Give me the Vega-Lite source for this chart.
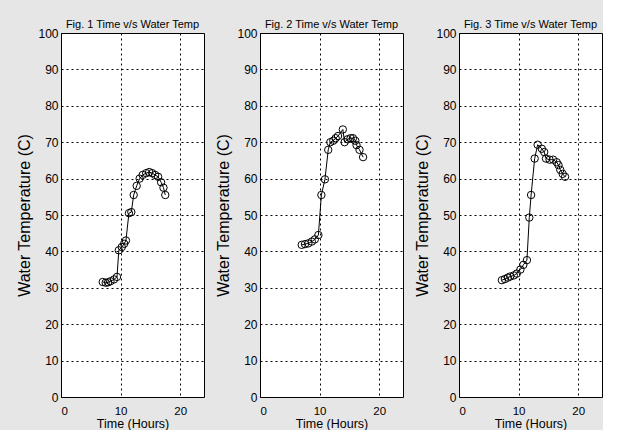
{
  "$schema": "https://vega.github.io/schema/vega-lite/v6.json",
  "background": "#e6e6e6",
  "padding": {"left": 16, "top": 19, "right": 0, "bottom": 0},
  "data": {"values": [
    {"fig": "Fig. 1 Time v/s Water Temp", "t": 7.0, "temp": 31.6},
    {"fig": "Fig. 1 Time v/s Water Temp", "t": 7.5, "temp": 31.4},
    {"fig": "Fig. 1 Time v/s Water Temp", "t": 7.9, "temp": 31.5},
    {"fig": "Fig. 1 Time v/s Water Temp", "t": 8.3, "temp": 31.8},
    {"fig": "Fig. 1 Time v/s Water Temp", "t": 8.9, "temp": 32.3},
    {"fig": "Fig. 1 Time v/s Water Temp", "t": 9.4, "temp": 33.0},
    {"fig": "Fig. 1 Time v/s Water Temp", "t": 9.7, "temp": 40.3},
    {"fig": "Fig. 1 Time v/s Water Temp", "t": 10.2, "temp": 41.2},
    {"fig": "Fig. 1 Time v/s Water Temp", "t": 10.6, "temp": 42.1},
    {"fig": "Fig. 1 Time v/s Water Temp", "t": 10.9, "temp": 43.0},
    {"fig": "Fig. 1 Time v/s Water Temp", "t": 11.4, "temp": 50.5},
    {"fig": "Fig. 1 Time v/s Water Temp", "t": 11.8, "temp": 50.8},
    {"fig": "Fig. 1 Time v/s Water Temp", "t": 12.2, "temp": 55.5},
    {"fig": "Fig. 1 Time v/s Water Temp", "t": 12.7, "temp": 58.0},
    {"fig": "Fig. 1 Time v/s Water Temp", "t": 13.2, "temp": 60.0},
    {"fig": "Fig. 1 Time v/s Water Temp", "t": 13.7, "temp": 61.0},
    {"fig": "Fig. 1 Time v/s Water Temp", "t": 14.3, "temp": 61.5},
    {"fig": "Fig. 1 Time v/s Water Temp", "t": 14.8, "temp": 61.8},
    {"fig": "Fig. 1 Time v/s Water Temp", "t": 15.3, "temp": 61.5},
    {"fig": "Fig. 1 Time v/s Water Temp", "t": 15.8, "temp": 61.0},
    {"fig": "Fig. 1 Time v/s Water Temp", "t": 16.3, "temp": 60.5},
    {"fig": "Fig. 1 Time v/s Water Temp", "t": 16.8, "temp": 59.0},
    {"fig": "Fig. 1 Time v/s Water Temp", "t": 17.2, "temp": 57.5},
    {"fig": "Fig. 1 Time v/s Water Temp", "t": 17.5, "temp": 55.5},
    {"fig": "Fig. 2 Time v/s Water Temp", "t": 7.0, "temp": 41.8},
    {"fig": "Fig. 2 Time v/s Water Temp", "t": 7.55, "temp": 42.0},
    {"fig": "Fig. 2 Time v/s Water Temp", "t": 8.1, "temp": 42.2},
    {"fig": "Fig. 2 Time v/s Water Temp", "t": 8.7, "temp": 42.7},
    {"fig": "Fig. 2 Time v/s Water Temp", "t": 9.2, "temp": 43.3},
    {"fig": "Fig. 2 Time v/s Water Temp", "t": 9.8, "temp": 44.5},
    {"fig": "Fig. 2 Time v/s Water Temp", "t": 10.3, "temp": 55.5},
    {"fig": "Fig. 2 Time v/s Water Temp", "t": 10.9, "temp": 59.8},
    {"fig": "Fig. 2 Time v/s Water Temp", "t": 11.45, "temp": 67.9},
    {"fig": "Fig. 2 Time v/s Water Temp", "t": 11.8, "temp": 70.0},
    {"fig": "Fig. 2 Time v/s Water Temp", "t": 12.3, "temp": 70.4},
    {"fig": "Fig. 2 Time v/s Water Temp", "t": 12.7, "temp": 71.1},
    {"fig": "Fig. 2 Time v/s Water Temp", "t": 13.1, "temp": 71.7},
    {"fig": "Fig. 2 Time v/s Water Temp", "t": 13.9, "temp": 73.5},
    {"fig": "Fig. 2 Time v/s Water Temp", "t": 14.2, "temp": 70.0},
    {"fig": "Fig. 2 Time v/s Water Temp", "t": 14.7, "temp": 70.8},
    {"fig": "Fig. 2 Time v/s Water Temp", "t": 15.2, "temp": 71.1},
    {"fig": "Fig. 2 Time v/s Water Temp", "t": 15.6, "temp": 71.1},
    {"fig": "Fig. 2 Time v/s Water Temp", "t": 16.0, "temp": 70.4},
    {"fig": "Fig. 2 Time v/s Water Temp", "t": 16.2, "temp": 69.2},
    {"fig": "Fig. 2 Time v/s Water Temp", "t": 16.7, "temp": 67.9},
    {"fig": "Fig. 2 Time v/s Water Temp", "t": 17.3, "temp": 65.9},
    {"fig": "Fig. 3 Time v/s Water Temp", "t": 7.2, "temp": 32.1},
    {"fig": "Fig. 3 Time v/s Water Temp", "t": 7.7, "temp": 32.4},
    {"fig": "Fig. 3 Time v/s Water Temp", "t": 8.2, "temp": 32.8},
    {"fig": "Fig. 3 Time v/s Water Temp", "t": 8.6, "temp": 33.1},
    {"fig": "Fig. 3 Time v/s Water Temp", "t": 9.2, "temp": 33.4},
    {"fig": "Fig. 3 Time v/s Water Temp", "t": 9.7, "temp": 33.9},
    {"fig": "Fig. 3 Time v/s Water Temp", "t": 10.3, "temp": 35.0},
    {"fig": "Fig. 3 Time v/s Water Temp", "t": 10.8, "temp": 36.3},
    {"fig": "Fig. 3 Time v/s Water Temp", "t": 11.4, "temp": 37.6},
    {"fig": "Fig. 3 Time v/s Water Temp", "t": 11.8, "temp": 49.3},
    {"fig": "Fig. 3 Time v/s Water Temp", "t": 12.1, "temp": 55.5},
    {"fig": "Fig. 3 Time v/s Water Temp", "t": 12.7, "temp": 65.5},
    {"fig": "Fig. 3 Time v/s Water Temp", "t": 13.2, "temp": 69.3},
    {"fig": "Fig. 3 Time v/s Water Temp", "t": 13.9, "temp": 68.2},
    {"fig": "Fig. 3 Time v/s Water Temp", "t": 14.3, "temp": 67.3},
    {"fig": "Fig. 3 Time v/s Water Temp", "t": 14.6, "temp": 65.5},
    {"fig": "Fig. 3 Time v/s Water Temp", "t": 15.2, "temp": 65.2},
    {"fig": "Fig. 3 Time v/s Water Temp", "t": 15.8, "temp": 65.2},
    {"fig": "Fig. 3 Time v/s Water Temp", "t": 16.4, "temp": 64.5},
    {"fig": "Fig. 3 Time v/s Water Temp", "t": 16.7, "temp": 63.7},
    {"fig": "Fig. 3 Time v/s Water Temp", "t": 17.0, "temp": 62.4},
    {"fig": "Fig. 3 Time v/s Water Temp", "t": 17.4, "temp": 61.3},
    {"fig": "Fig. 3 Time v/s Water Temp", "t": 17.8, "temp": 60.5}
  ]},
  "facet": {
    "column": {
      "field": "fig",
      "type": "nominal",
      "title": null,
      "header": {
        "labelFont": "Liberation Sans",
        "labelFontSize": 11,
        "labelColor": "#000000",
        "labelPadding": -4
      }
    }
  },
  "spacing": 10,
  "resolve": {"axis": {"y": "independent"}},
  "spec": {
    "width": 143,
    "height": 364,
    "encoding": {
      "x": {
        "field": "t", "type": "quantitative",
        "scale": {"domain": [0, 24], "nice": false},
        "axis": {"values": [0, 10, 20], "title": "Time (Hours)"}
      },
      "y": {
        "field": "temp", "type": "quantitative",
        "scale": {"domain": [0, 100], "nice": false},
        "axis": {"values": [0, 10, 20, 30, 40, 50, 60, 70, 80, 90, 100], "title": "Water Temperature (C)"}
      }
    },
    "layer": [
      {"mark": {"type": "line", "color": "#000000", "strokeWidth": 1}},
      {"mark": {"type": "point", "shape": "circle", "filled": false, "size": 55, "stroke": "#000000", "strokeWidth": 1, "opacity": 1}}
    ]
  },
  "config": {
    "view": {"fill": "#ffffff", "stroke": "#000000", "strokeWidth": 1},
    "axis": {
      "domain": false,
      "ticks": false,
      "grid": true,
      "gridColor": "#000000",
      "gridDash": [2, 3],
      "gridOpacity": 1,
      "gridWidth": 1,
      "labelFont": "Liberation Sans",
      "labelFontSize": 12,
      "labelColor": "#000000",
      "labelPadding": 3,
      "titleFont": "Liberation Sans",
      "titleFontWeight": "normal",
      "titleColor": "#000000"
    },
    "axisX": {"titleFontSize": 12.5, "titlePadding": 1, "labelPadding": 1, "labelFontSize": 11.5},
    "axisY": {"titleFontSize": 16, "titlePadding": 5}
  }
}
